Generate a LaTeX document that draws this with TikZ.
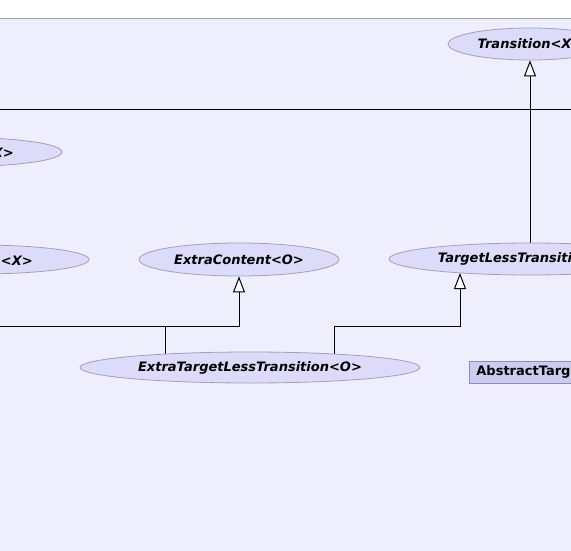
\documentclass[tikz,border=0pt]{standalone}
\usepackage{fontspec}
\setmainfont{DejaVu Sans}
\usetikzlibrary{shapes.geometric,arrows.meta,backgrounds,calc}
\definecolor{pagefill}{HTML}{EEEEFC}
\definecolor{framegray}{HTML}{A0A0A8}
\definecolor{clsfill}{HTML}{DCDCFA}
\definecolor{clsdraw}{HTML}{A0A0BC}
\definecolor{boxfill}{HTML}{CCCCF0}
\definecolor{boxdraw}{HTML}{8C8CC0}
\newcommand{\clsfont}{\fontsize{13}{14}\selectfont\bfseries\itshape}
\newcommand{\boxfont}{\fontsize{13}{14}\selectfont\bfseries}

\begin{document}
\begin{tikzpicture}[x=1pt,y=-1pt,
	iface/.style={ellipse, draw=clsdraw, fill=clsfill, line width=0.8pt, inner sep=0pt, font=\clsfont},
	ifacetext/.style={inner sep=0pt, font=\clsfont},
	absbox/.style={rectangle, draw=boxdraw, fill=boxfill, line width=0.8pt, inner sep=0pt, inner xsep=7pt, font=\boxfont},
	conn/.style={line width=1pt},
	extends/.style={conn, -{Triangle[length=16pt,width=12pt,fill=white]}}]
	\clip (0,0) rectangle (571,551);

	% classes
	\node[iface, minimum width=164pt, minimum height=32pt] (tr) at (530,44) {Transition<X>};
	\node[iface, minimum width=282pt, minimum height=32pt] (tlt) at (530,259) {TargetLessTransition<X>};
	\node[iface, minimum width=200pt, minimum height=33pt] (ec) at (239,259.5) {ExtraContent<O>};
	\node[iface, minimum width=340pt, minimum height=31pt] (etl) at (250,367.5) {ExtraTargetLessTransition<O>};
	\node[iface, minimum width=200pt, minimum height=29pt] (lx1) at (-38,152) {};
	\node[iface, minimum width=220pt, minimum height=29pt] (lx2) at (-21,259.5) {};
	\node[ifacetext, anchor=east] at (14,153) {X>};
	\node[ifacetext, anchor=east] at (33,260.5) {n<X>};
	\node[absbox, anchor=west, minimum height=22pt] (atl) at (469,372) {AbstractTargetLessTransition};

	% junctions
	\coordinate (h1) at (0,110);
	\coordinate (h2) at (571,110);
	\coordinate (j0) at (0,326);
	\coordinate (j1) at (165,326);
	\coordinate (j2) at (334,326);
	\coordinate (tltfoot) at ($(tlt.center)+(-70,14)$);

	\begin{scope}[on background layer]
	\fill[pagefill] (0,19) rectangle (571,551);
	\draw[framegray, line width=1pt] (0,19) -- (571,19);
	\draw[conn] (h1) -- (h2);
	\draw[extends] (tlt) -- (tr);
	\draw[extends] (j0) -| (ec);
	\draw[conn] (etl.center -| j1) -- (j1);
	\draw[extends] (etl.center -| j2) -- (j2) -| (tltfoot);
	\end{scope}
\end{tikzpicture}
\end{document}
